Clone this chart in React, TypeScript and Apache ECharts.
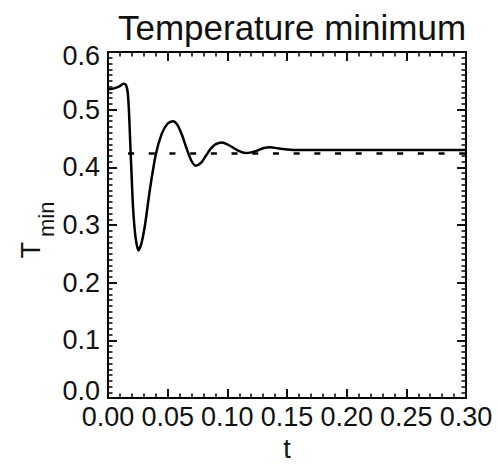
import React, { useEffect, useRef } from "react";
import * as echarts from "echarts";

const tValues = [
  0, 0.005, 0.01, 0.013, 0.015, 0.0165, 0.0175, 0.0185, 0.0195, 0.021, 0.023,
  0.0255, 0.028, 0.031, 0.035, 0.04, 0.045, 0.05, 0.0545, 0.058, 0.062, 0.066,
  0.07, 0.0735, 0.078, 0.082, 0.086, 0.09, 0.0955, 0.1, 0.105, 0.11, 0.115,
  0.12, 0.125, 0.13, 0.136, 0.142, 0.15, 0.16, 0.18, 0.2, 0.22, 0.24, 0.26,
  0.28, 0.3,
];
const tminValues = [
  0.535, 0.537, 0.541, 0.545, 0.543, 0.53, 0.5, 0.45, 0.4, 0.33, 0.28, 0.256,
  0.268, 0.3, 0.36, 0.422, 0.458, 0.476, 0.48, 0.474, 0.456, 0.432, 0.411,
  0.403, 0.408, 0.42, 0.432, 0.44, 0.443, 0.44, 0.434, 0.428, 0.425, 0.426,
  0.429, 0.433, 0.435, 0.433, 0.431, 0.43, 0.43, 0.43, 0.43, 0.43, 0.43, 0.43,
  0.43,
];
const referenceT = [0.0168, 0.3];
const referenceValue = [0.424, 0.424];
const xTicks = ["0.00", "0.05", "0.10", "0.15", "0.20", "0.25", "0.30"];
const yTicks = ["0.0", "0.1", "0.2", "0.3", "0.4", "0.5", "0.6"];

const FONT = "Liberation Sans, Arial, sans-serif";

export default function App() {
  const ref = useRef<HTMLDivElement>(null);
  useEffect(() => {
    document.body.style.margin = "0";
    const chart = echarts.init(ref.current!, null, { renderer: "svg" });
    const tick = () => ({ show: true, inside: true, length: 9, lineStyle: { color: "#111", width: 2 } });
    const minor = (n: number) => ({ show: true, splitNumber: n, length: 4.5, lineStyle: { color: "#111", width: 1.6 } });
    const axisLine = () => ({ show: true, onZero: false, lineStyle: { color: "#000", width: 2 } });
    const xBase = () => ({
      type: "value" as const,
      min: 0,
      max: 0.3,
      interval: 0.05,
      axisLine: axisLine(),
      axisTick: tick(),
      minorTick: minor(5),
      splitLine: { show: false },
      minorSplitLine: { show: false },
    });
    const yBase = () => ({
      type: "value" as const,
      min: 0,
      max: 0.6,
      interval: 0.1,
      axisLine: axisLine(),
      axisTick: tick(),
      minorTick: minor(10),
      splitLine: { show: false },
      minorSplitLine: { show: false },
    });
    chart.setOption({
      animation: false,
      backgroundColor: "#fff",
      title: {
        text: "Temperature minimum",
        left: 287,
        top: 5,
        textAlign: "center",
        textStyle: { fontFamily: FONT, fontSize: 35, fontWeight: "normal", color: "#111" },
      },
      grid: { left: 108, top: 52, width: 358, height: 349, containLabel: false },
      xAxis: [
        {
          ...xBase(),
          position: "bottom",
          name: "t",
          nameLocation: "middle",
          nameGap: 36,
          nameTextStyle: { fontFamily: FONT, fontSize: 27, color: "#111" },
          axisLabel: {
            show: true,
            margin: 5,
            fontFamily: FONT,
            fontSize: 27,
            color: "#111",
            formatter: (v: number) => xTicks[Math.round(v / 0.05)] ?? v.toFixed(2),
          },
        },
        { ...xBase(), position: "top", axisLabel: { show: false } },
      ],
      yAxis: [
        {
          ...yBase(),
          position: "left",
          axisLabel: {
            show: true,
            margin: 8,
            fontFamily: FONT,
            fontSize: 27,
            color: "#111",
            formatter: (v: number) => {
              const i = Math.round(v / 0.1);
              const s = yTicks[i] ?? v.toFixed(1);
              if (i === 0) return `{lo|${s}}`;
              if (i === 6) return `{hi|${s}}`;
              return s;
            },
            rich: {
              lo: { fontFamily: FONT, fontSize: 27, color: "#111", padding: [0, 0, 14, 0] },
              hi: { fontFamily: FONT, fontSize: 27, color: "#111", padding: [8, 0, 0, 0] },
            },
          },
        },
        { ...yBase(), position: "right", axisLabel: { show: false } },
      ],
      graphic: [
        {
          type: "text",
          x: 44,
          y: 250,
          rotation: Math.PI / 2,
          style: { text: "T", font: `27px ${FONT}`, fill: "#111", textAlign: "center", textVerticalAlign: "bottom" },
        },
        {
          type: "text",
          x: 57,
          y: 237,
          rotation: Math.PI / 2,
          style: { text: "min", font: `22px ${FONT}`, fill: "#111", textAlign: "left", textVerticalAlign: "bottom" },
        },
      ],
      series: [
        {
          type: "line",
          data: referenceT.map((t, i) => [t, referenceValue[i]]),
          showSymbol: false,
          lineStyle: { color: "#000", width: 2.5, type: [6, 14.7] },
          z: 2,
        },
        {
          type: "line",
          data: tValues.map((t, i) => [t, tminValues[i]]),
          showSymbol: false,
          smooth: 0.25,
          lineStyle: { color: "#000", width: 2.5 },
          z: 3,
        },
      ],
    });
    return () => chart.dispose();
  }, []);
  return <div ref={ref} style={{ width: 498, height: 467 }} />;
}
